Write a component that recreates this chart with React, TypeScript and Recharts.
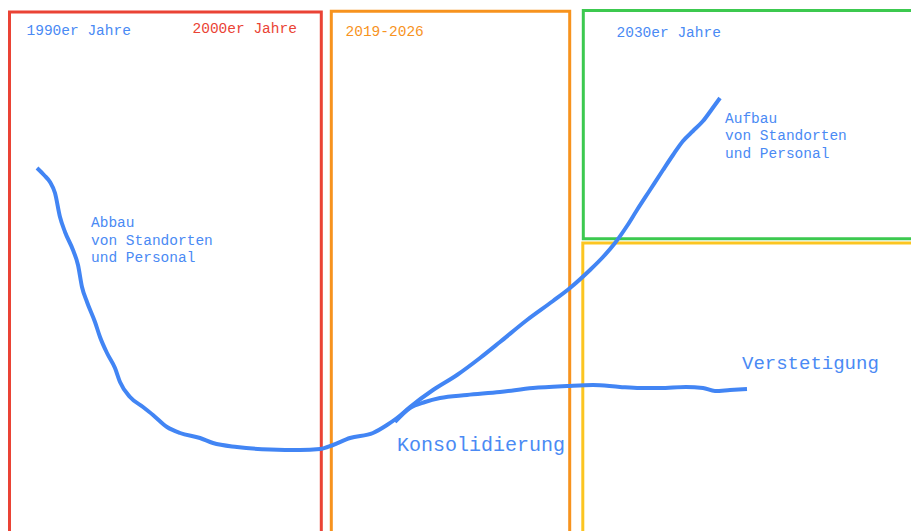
import { ComposedChart, Line, XAxis, YAxis, ReferenceArea, ReferenceDot } from "recharts";

// Sketch coordinates: x runs along time (0..911), y is measured from the top (axis reversed).
const abbauCurve = [
  { x: 37, y: 168 }, { x: 44, y: 175 }, { x: 50, y: 182 }, { x: 55, y: 193 },
  { x: 60, y: 217 }, { x: 65, y: 232 }, { x: 73, y: 250 }, { x: 78, y: 265 },
  { x: 82, y: 287 }, { x: 87, y: 302 }, { x: 95, y: 322 }, { x: 100, y: 337 },
  { x: 107, y: 353 }, { x: 115, y: 368 }, { x: 120, y: 382 }, { x: 130, y: 397 },
  { x: 143, y: 407 }, { x: 153, y: 415 }, { x: 167, y: 427 }, { x: 180, y: 433 },
  { x: 200, y: 438 }, { x: 213, y: 443 }, { x: 237, y: 447 }, { x: 270, y: 449.5 },
  { x: 300, y: 450 }, { x: 320, y: 449 }, { x: 333, y: 445 }, { x: 350, y: 438 },
  { x: 373, y: 433 }, { x: 387, y: 425 }, { x: 397, y: 418 }, { x: 410, y: 407 },
  { x: 433, y: 390 }, { x: 457, y: 375 }, { x: 480, y: 358 }, { x: 500, y: 342 },
  { x: 527, y: 320 }, { x: 553, y: 301 }, { x: 570, y: 288 }, { x: 590, y: 270 },
  { x: 603, y: 257 }, { x: 615, y: 243 }, { x: 627, y: 226 }, { x: 637, y: 210 },
  { x: 650, y: 190 }, { x: 663, y: 170 }, { x: 673, y: 155 }, { x: 683, y: 141 },
  { x: 693, y: 131 }, { x: 703, y: 121 }, { x: 712, y: 109 }, { x: 720, y: 98 },
];

const verstetigungCurve = [
  { x: 395, y: 422 }, { x: 410, y: 408 }, { x: 425, y: 402 }, { x: 440, y: 398 },
  { x: 467, y: 395 }, { x: 500, y: 392 }, { x: 533, y: 388 }, { x: 567, y: 386 },
  { x: 593, y: 385 }, { x: 620, y: 387 }, { x: 640, y: 388 }, { x: 660, y: 388 },
  { x: 686, y: 387 }, { x: 703, y: 388 }, { x: 715, y: 391 }, { x: 730, y: 390 },
  { x: 747, y: 389 },
];

// phase boxes (red, orange, green, yellow)
const boxStart = [9.5, 331.3, 583.3, 582.8];
const boxEnd = [321.3, 569.7, 930, 930];
const boxTop = [12, 11.2, 10.5, 243];
const boxBottom = [560, 560, 238.7, 560];

const titles = ["1990er Jahre", "2000er Jahre", "2019-2026", "2030er Jahre"];
const titleX = [26.5, 192.5, 345.5, 616.5];
const titleY = [35, 33, 35.5, 37];

const notes = [
  ["Abbau", "von Standorten", "und Personal"],
  ["Aufbau", "von Standorten", "und Personal"],
  ["Konsolidierung"],
  ["Verstetigung"],
];
const noteX = [91, 725, 397, 742];
const noteY = [227, 122.5, 451, 368.5];

const BLUE = "#4285f4";
const TEXT_BLUE = "#4a8af4";
const boxColors = ["#ea4335", "#f7931e", "#3cc94f", "#fcc520"];
const titleColors = [TEXT_BLUE, "#ea4335", "#f7931e", TEXT_BLUE];
const noteSizes = [14.5, 14.5, 20, 19];
const FONT = "'Liberation Mono', 'DejaVu Sans Mono', monospace";

function textLabel(lines: string[], color: string, size: number) {
  return (props: any) => {
    const vb = props.viewBox || {};
    return (
      <text x={vb.x} y={vb.y} fill={color} fontSize={size} fontFamily={FONT}>
        {lines.map((l, i) => (
          <tspan key={i} x={vb.x} dy={i === 0 ? 0 : 17.5}>
            {l}
          </tspan>
        ))}
      </text>
    );
  };
}

export default function App() {
  return (
    <div style={{ position: "absolute", left: 0, top: 0, background: "#fff" }}>
      <ComposedChart width={911} height={531} margin={{ top: 0, right: 0, bottom: 0, left: 0 }}>
        <XAxis type="number" dataKey="x" domain={[0, 911]} allowDataOverflow hide />
        <YAxis type="number" dataKey="y" domain={[0, 531]} allowDataOverflow reversed hide />
        {boxStart.map((x1, i) => (
          <ReferenceArea
            key={"b" + i}
            x1={x1}
            x2={boxEnd[i]}
            y1={boxTop[i]}
            y2={boxBottom[i]}
            fill="none"
            fillOpacity={0}
            stroke={boxColors[i]}
            strokeWidth={3}
            ifOverflow="hidden"
          />
        ))}
        <Line
          data={abbauCurve}
          dataKey="y"
          type="monotone"
          stroke={BLUE}
          strokeWidth={4}
          dot={false}
          activeDot={false}
          isAnimationActive={false}
        />
        <Line
          data={verstetigungCurve}
          dataKey="y"
          type="monotone"
          stroke={BLUE}
          strokeWidth={4}
          dot={false}
          activeDot={false}
          isAnimationActive={false}
        />
        {titles.map((t, i) => (
          <ReferenceDot
            key={"t" + i}
            x={titleX[i]}
            y={titleY[i]}
            r={0}
            fill="none"
            stroke="none"
            label={{ content: textLabel([t], titleColors[i], 14.5) }}
          />
        ))}
        {notes.map((n, i) => (
          <ReferenceDot
            key={"n" + i}
            x={noteX[i]}
            y={noteY[i]}
            r={0}
            fill="none"
            stroke="none"
            label={{ content: textLabel(n, TEXT_BLUE, noteSizes[i]) }}
          />
        ))}
      </ComposedChart>
    </div>
  );
}
